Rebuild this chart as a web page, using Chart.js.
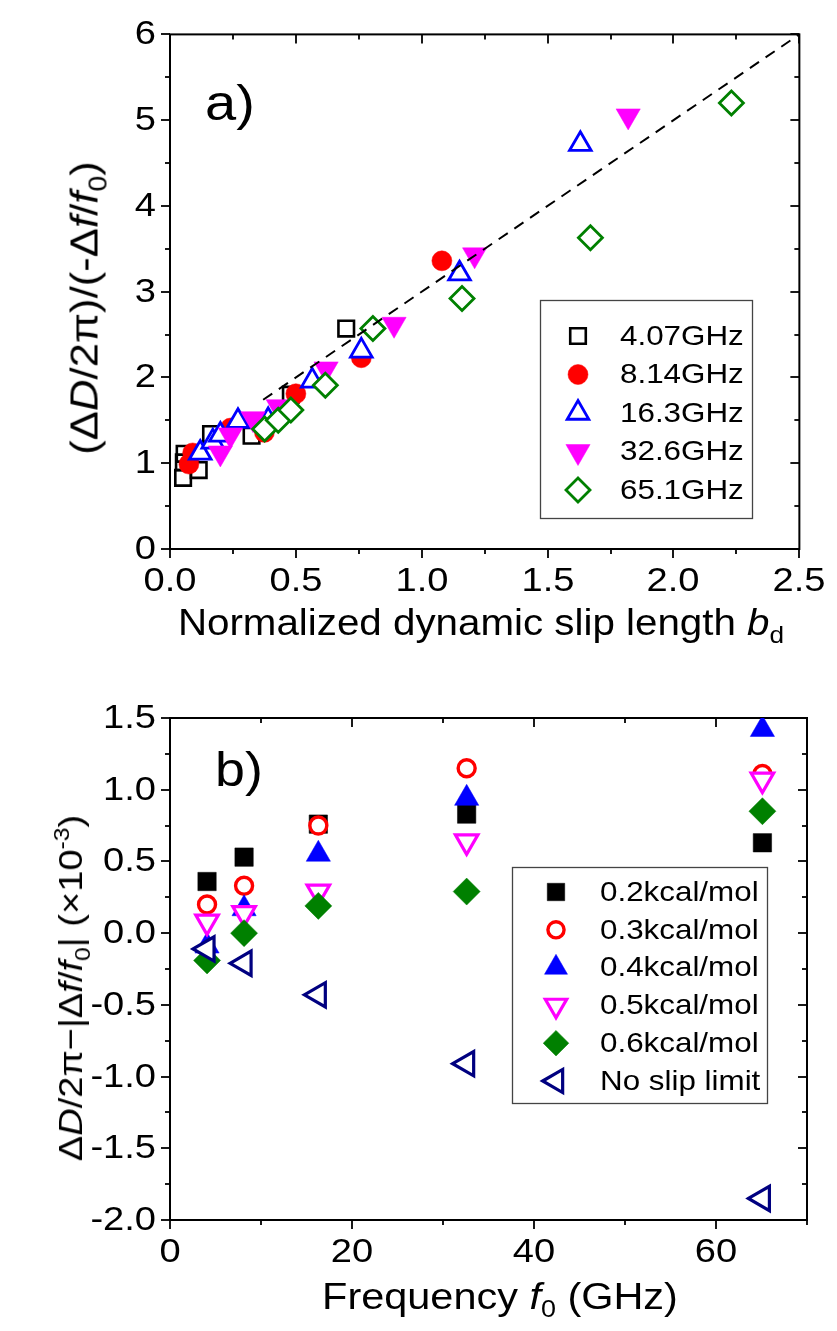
<!DOCTYPE html>
<html><head><meta charset="utf-8">
<script src="https://cdn.jsdelivr.net/npm/chart.js@4"></script>
<style>
body{margin:0;background:#fff;width:837px;height:1331px;position:relative;overflow:hidden;font-family:"Liberation Sans",Arial,sans-serif;}
canvas{position:absolute;left:0;}
#c1{top:0;}
#c2{top:660px;}
.lbl{position:absolute;white-space:nowrap;color:#000;line-height:1;}
.sub{font-size:65%;position:relative;top:0.35em;}
.sup{font-size:65%;position:relative;top:-0.6em;}
.rot{transform:translate(-50%,-50%) rotate(-90deg) scaleX(1.12);}
.ctr{transform:translate(-50%,0) scaleX(1.12);}
.st{transform:scaleX(1.12);transform-origin:left top;}
</style></head><body>
<canvas id="c1" width="837" height="660"></canvas>
<canvas id="c2" width="837" height="671"></canvas>
<div class="lbl st" style="left:205px;top:78px;font-size:50px;">a)</div>
<div class="lbl st" style="left:215px;top:746px;font-size:48px;">b)</div>
<div class="lbl ctr" style="left:481px;top:605px;font-size:36px;">Normalized dynamic slip length <i>b</i><span class="sub">d</span></div>
<div class="lbl ctr" style="left:500px;top:1278px;font-size:37px;">Frequency <i>f</i><span class="sub">0</span> (GHz)</div>
<div class="lbl rot" style="left:84px;top:308px;font-size:39px;">(Δ<i>D</i>/2π)/(-Δ<i>f</i>/<i>f</i><span class="sub">0</span>)</div>
<div class="lbl rot" style="left:70px;top:988px;font-size:34px;">Δ<i>D</i>/2π−|Δ<i>f</i>/<i>f</i><span class="sub">0</span>| (×10<span class="sup">-3</span>)</div>
<script>
// ---------- Data: panel a ----------
const seriesA = ['4.07GHz','8.14GHz','16.3GHz','32.6GHz','65.1GHz'];
const a407x = [0.052,0.114,0.055,0.058,0.163,0.324,0.48,0.70];
const a407y = [0.83,0.92,1.01,1.11,1.34,1.32,1.80,2.57];
const a814x = [0.075,0.09,0.24,0.375,0.50,0.76,1.08];
const a814y = [0.99,1.12,1.41,1.36,1.81,2.23,3.36];
const a163x = [0.12,0.17,0.20,0.27,0.39,0.565,0.76,1.15,1.63];
const a163y = [1.12,1.25,1.33,1.49,1.50,1.96,2.31,3.21,4.72];
const a326x = [0.20,0.24,0.33,0.43,0.62,0.89,1.21,1.82];
const a326y = [1.12,1.33,1.52,1.66,2.10,2.62,3.43,5.05];
const a651x = [0.376,0.43,0.48,0.617,0.806,1.16,1.67,2.23];
const a651y = [1.40,1.50,1.62,1.91,2.57,2.92,3.63,5.20];
const fitX = [0.37,2.5];
const fitY = [1.74,6.0];
const xTicksA = [0,0.5,1.0,1.5,2.0,2.5];
const yTicksA = [0,1,2,3,4,5,6];

// ---------- Data: panel b ----------
const seriesB = ['0.2kcal/mol','0.3kcal/mol','0.4kcal/mol','0.5kcal/mol','0.6kcal/mol','No slip limit'];
const freq = [4.07,8.14,16.3,32.6,65.1];
const e02 = [0.36,0.53,0.76,0.83,0.63];
const e03 = [0.20,0.33,0.75,1.15,1.11];
const e04 = [-0.09,0.17,0.55,0.94,1.42];
const e05 = [0.08,0.14,0.29,0.64,1.07];
const e06 = [-0.19,0.00,0.19,0.29,0.85];
const noslip = [-0.11,-0.21,-0.43,-0.91,-1.85];
const xTicksB = [0,20,40,60];
const yTicksB = [-2.0,-1.5,-1.0,-0.5,0.0,0.5,1.0,1.5];

const FAM = '"Liberation Sans", Arial, sans-serif';
const SX = 1.12;            // horizontal text stretch
const zip = (xs,ys)=>xs.map((x,i)=>({x:x,y:ys[i]}));
const isIn = (v,arr)=>arr.some(a=>Math.abs(a-v)<1e-6);

function mk(label, xs, ys, st, order){
  return Object.assign({label:label, data:zip(xs,ys), order:order, showLine:false,
    pointHoverRadius:st.pointRadius}, st);
}
const T = 'rgba(0,0,0,0)', W = '#ffffff';
const stA = [
  {pointStyle:'rect', pointRadius:11, pointRotation:0, pointBackgroundColor:T, pointBorderColor:'#000', pointBorderWidth:2.6},
  {pointStyle:'circle', pointRadius:10, pointRotation:0, pointBackgroundColor:'#ff0000', pointBorderColor:'#ff0000', pointBorderWidth:0.5},
  {pointStyle:'triangle', pointRadius:12.5, pointRotation:0, pointBackgroundColor:W, pointBorderColor:'#0000ff', pointBorderWidth:2.8},
  {pointStyle:'triangle', pointRadius:14, pointRotation:180, pointBackgroundColor:'#ff00ff', pointBorderColor:'#ff00ff', pointBorderWidth:0.5},
  {pointStyle:'rectRot', pointRadius:12, pointRotation:0, pointBackgroundColor:W, pointBorderColor:'#008000', pointBorderWidth:2.8}
];
const stB = [
  {pointStyle:'rect', pointRadius:13, pointRotation:0, pointBackgroundColor:'#000', pointBorderColor:'#000', pointBorderWidth:0.5},
  {pointStyle:'circle', pointRadius:8.5, pointRotation:0, pointBackgroundColor:W, pointBorderColor:'#ff0000', pointBorderWidth:3.4},
  {pointStyle:'triangle', pointRadius:14, pointRotation:0, pointBackgroundColor:'#0000ff', pointBorderColor:'#0000ff', pointBorderWidth:0.5},
  {pointStyle:'triangle', pointRadius:13, pointRotation:180, pointBackgroundColor:W, pointBorderColor:'#ff00ff', pointBorderWidth:3.2},
  {pointStyle:'rectRot', pointRadius:13.5, pointRotation:0, pointBackgroundColor:'#008000', pointBorderColor:'#008000', pointBorderWidth:0.5},
  {pointStyle:'triangle', pointRadius:14, pointRotation:-90, pointBackgroundColor:W, pointBorderColor:'#000080', pointBorderWidth:3.2}
];

function stretchText(ctx, txt, x, y, align, base, size){
  ctx.save(); ctx.translate(x,y); ctx.scale(SX,1);
  ctx.font = size+'px '+FAM; ctx.fillStyle='#000'; ctx.textAlign=align; ctx.textBaseline=base;
  ctx.fillText(txt,0,0); ctx.restore();
}
const framePlugin = {
  id:'frame',
  beforeDatasetsDraw(chart){
    const {ctx, chartArea:a} = chart; const x = chart.scales.x, y = chart.scales.y;
    ctx.save(); ctx.strokeStyle='#000'; ctx.lineCap='butt';
    ctx.lineWidth=2;
    ctx.strokeRect(a.left, a.top, a.right-a.left, a.bottom-a.top);
    ctx.lineWidth=1.8;
    const ln=(x1,y1,x2,y2)=>{ctx.beginPath();ctx.moveTo(x1,y1);ctx.lineTo(x2,y2);ctx.stroke();};
    x.ticks.forEach(t=>{const px=Math.round(x.getPixelForValue(t.value)); const L=t.label!==''?9:5;
      ln(px,a.bottom,px,a.bottom+L); ln(px,a.top,px,a.top+L);
      if(t.label!=='') stretchText(ctx, t.label, px, a.bottom+16, 'center', 'top', 34);});
    y.ticks.forEach(t=>{const py=Math.round(y.getPixelForValue(t.value)); const L=t.label!==''?9:5;
      ln(a.left-L,py,a.left,py); ln(a.right-L,py,a.right,py);
      if(t.label!=='') stretchText(ctx, t.label, a.left-14, py+1, 'right', 'middle', 34);});
    ctx.restore();
  }
};
function boxLegend(cfg){
  return {id:'boxLegend', afterDraw(chart){
    const ctx=chart.ctx; ctx.save();
    ctx.strokeStyle='#444'; ctx.lineWidth=1.3;
    ctx.strokeRect(cfg.x0+0.5, cfg.y0+0.5, cfg.w, cfg.h);
    let i=0;
    chart.data.datasets.forEach(ds=>{
      if(!ds.label) return;
      const yy = cfg.row0 + i*cfg.dy; i++;
      ctx.fillStyle = ds.pointBackgroundColor; ctx.strokeStyle = ds.pointBorderColor; ctx.lineWidth = ds.pointBorderWidth;
      Chart.helpers.drawPoint(ctx, {pointStyle:ds.pointStyle, radius:ds.pointRadius*cfg.ms, rotation:ds.pointRotation, borderWidth:ds.pointBorderWidth}, cfg.mx, yy);
      stretchText(ctx, ds.label, cfg.tx, yy+1, 'left', 'middle', cfg.fs);
    });
    ctx.restore();
  }};
}
function axisCommon(min,max,step,majors,fmt,fitFn){
  return {type:'linear', min:min, max:max,
    ticks:{stepSize:step, autoSkip:false, maxRotation:0, includeBounds:true, color:'rgba(0,0,0,0)', padding:14,
      font:{size:34, family:FAM}, callback:(v)=>isIn(v,majors)?fmt(v):''},
    grid:{display:false, drawTicks:false}, border:{display:false}, afterFit:fitFn};
}

// ---------- Chart a ----------
const dsA = [a407x,a814x,a163x,a326x,a651x].map((xs,i)=>mk(seriesA[i], xs, [a407y,a814y,a163y,a326y,a651y][i], stA[i], 10-i));
dsA.push({label:'', data:zip(fitX,fitY), showLine:true, borderColor:'#000', borderWidth:2, borderDash:[11,8], pointRadius:0, order:0, fill:false});
new Chart(document.getElementById('c1'), {
  type:'scatter',
  data:{datasets:dsA},
  options:{responsive:false, animation:false, events:[],
    layout:{padding:{top:32,right:29,left:0,bottom:0}},
    plugins:{legend:{display:false}, tooltip:{enabled:false}},
    scales:{
      x:axisCommon(0,2.5,0.25,xTicksA,v=>v.toFixed(1),s=>{s.height=660-549;}),
      y:axisCommon(0,6,0.5,yTicksA,v=>String(Math.round(v)),s=>{s.width=170;})
    }},
  plugins:[framePlugin, boxLegend({x0:540,y0:300,w:212,h:218,row0:336,dy:38.5,mx:578,tx:620,fs:28,ms:1})]
});

// ---------- Chart b ----------
const dsB = [e02,e03,e04,e05,e06,noslip].map((ys,i)=>mk(seriesB[i], freq, ys, stB[i], 10-i));
new Chart(document.getElementById('c2'), {
  type:'scatter',
  data:{datasets:dsB},
  options:{responsive:false, animation:false, events:[],
    layout:{padding:{top:58,right:30,left:0,bottom:0}},
    plugins:{legend:{display:false}, tooltip:{enabled:false}},
    scales:{
      x:axisCommon(0,70,10,xTicksB,v=>String(Math.round(v)),s=>{s.height=671-560;}),
      y:axisCommon(-2,1.5,0.25,yTicksB,v=>v.toFixed(1),s=>{s.width=170;})
    }},
  plugins:[framePlugin, boxLegend({x0:512,y0:207,w:255,h:236,row0:232,dy:37.8,mx:556,tx:600,fs:28,ms:0.95})]
});
</script>
</body></html>
